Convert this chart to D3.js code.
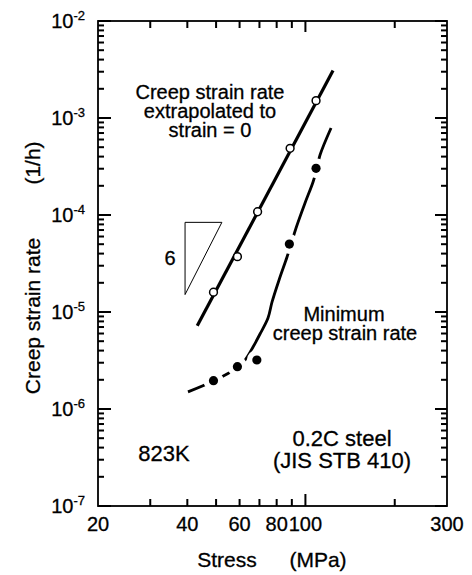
<!DOCTYPE html>
<html>
<head>
<meta charset="utf-8">
<script src="https://cdn.jsdelivr.net/npm/d3@7"></script>
<style>
  body { margin: 0; background: #fff; }
  text { font-family: "Liberation Sans", Arial, Helvetica, sans-serif; fill: #000; stroke: #000; stroke-width: 0.3px; }
</style>
</head>
<body>
<svg id="chart" width="472" height="575"></svg>
<script>
// ---- data (stress in MPa, strain rate in 1/h) ----
const extrapStress = [49, 59, 69, 88.8, 108.6];
const extrapRate   = [1.6e-5, 3.72e-5, 1.08e-4, 4.87e-4, 1.51e-3];
const extrapLineStress = [43.2, 123.9];
const extrapLineRate   = [7.22e-6, 3.08e-3];

const minStress = [49, 59, 68.6, 88.3, 108.6];
const minRate   = [1.96e-6, 2.73e-6, 3.2e-6, 5.02e-5, 3.03e-4];
const minCurveStress = [40.2, 49, 58.8, 62.6, 66.6, 70.3, 74.8, 77.2, 81.5, 86.7, 89.5, 93.0, 99.7, 106.1, 109.4, 112, 122];
const minCurveRate   = [1.5e-6, 1.94e-6, 2.65e-6, 3.2e-6, 4.36e-6, 5.93e-6, 8.67e-6, 1.27e-5, 2.14e-5, 3.69e-5, 5.02e-5, 7.35e-5, 1.33e-4, 2.19e-4, 3.05e-4, 4.15e-4, 7.88e-4];

const slopeStress = [39.3, 52.3];
const slopeTopRate = 8.4e-5;
const slopeValue = 6;

const xTickLabels = [20, 40, 60, 80, 100, 300];
const xMinorTicks = [30, 40, 50, 60, 70, 80, 90, 200];
const xMajorTicks = [100];
const yExponents = [-2, -3, -4, -5, -6, -7];

// ---- layout ----
const svg = d3.select("#chart");
const L = 98, R = 447, T = 21, B = 506;
const x = d3.scaleLog().domain([20, 300]).range([L, R]);
const y = d3.scaleLog().domain([1e-7, 1e-2]).range([B, T]);

const yMinor = [];
for (let e = -7; e < -2; e++) for (let m = 2; m <= 9; m++) yMinor.push(m * Math.pow(10, e));
const yMajor = yExponents.map(e => Math.pow(10, e));

// frame
svg.append("rect").attr("x", L).attr("y", T).attr("width", R - L).attr("height", B - T)
  .attr("fill", "none").attr("stroke", "#000").attr("stroke-width", 1.8);

// ticks (inward) drawn from the scales as thin rects
function xTicks(vals, yEdge, len) {
  svg.append("g").selectAll("rect").data(vals).join("rect")
    .attr("x", d => x(d) - 1).attr("width", 2)
    .attr("y", len < 0 ? yEdge + len : yEdge).attr("height", Math.abs(len))
    .attr("fill", "#000");
}
function yTicks(vals, xEdge, len) {
  svg.append("g").selectAll("rect").data(vals).join("rect")
    .attr("y", d => y(d) - 1).attr("height", 2)
    .attr("x", len < 0 ? xEdge + len : xEdge).attr("width", Math.abs(len))
    .attr("fill", "#000");
}
xTicks(xMinorTicks, B, -7);
xTicks(xMajorTicks, B, -12);
xTicks(xMinorTicks, T, 7);
xTicks(xMajorTicks, T, 11);
yTicks(yMinor, L, 6);
yTicks(yMajor, L, 13);
yTicks(yMinor, R, -6);
yTicks(yMajor, R, -12);

// x tick labels
svg.append("g").selectAll("text").data(xTickLabels).join("text")
  .attr("x", d => x(d)).attr("y", B + 25)
  .attr("text-anchor", "middle").attr("font-size", 20)
  .text(d => d);

// y tick labels with superscript
const yl = svg.append("g").selectAll("text").data(yExponents).join("text")
  .attr("x", L - 13).attr("y", d => y(Math.pow(10, d)) + 7)
  .attr("text-anchor", "end").attr("font-size", 20);
yl.append("tspan").text("10");
yl.append("tspan").attr("font-size", 13).attr("dy", -8).text(d => String(d));

// axis titles
svg.append("text").attr("x", 227).attr("y", 567).attr("text-anchor", "middle").attr("font-size", 21).text("Stress");
svg.append("text").attr("x", 318).attr("y", 567).attr("text-anchor", "middle").attr("font-size", 21).text("(MPa)");
svg.append("text").attr("transform", "translate(40,316) rotate(-90)").attr("text-anchor", "middle").attr("font-size", 21).text("Creep strain rate");
svg.append("text").attr("transform", "translate(40,163) rotate(-90)").attr("text-anchor", "middle").attr("font-size", 21).text("(1/h)");

// slope triangle
const sx0 = x(slopeStress[0]), sx1 = x(slopeStress[1]);
const syTop = y(slopeTopRate);
const bottomRate = slopeTopRate / Math.pow(slopeStress[1] / slopeStress[0], slopeValue);
svg.append("path")
  .attr("d", `M${sx0},${syTop}L${sx1},${syTop}L${sx0},${y(bottomRate)}Z`)
  .attr("fill", "none").attr("stroke", "#000").attr("stroke-width", 1);
svg.append("text").attr("x", sx0 - 15).attr("y", (syTop + y(bottomRate)) / 2 + 7)
  .attr("text-anchor", "middle").attr("font-size", 20).text(slopeValue);

// minimum creep strain rate curve
const minLine = d3.line().x(d => x(d[0])).y(d => y(d[1])).curve(d3.curveCatmullRom.alpha(0.5));
svg.append("path").datum(minCurveStress.map((s, i) => [s, minCurveRate[i]]))
  .attr("d", minLine).attr("fill", "none").attr("stroke", "#000").attr("stroke-width", 2.8);
// gaps around filled points
svg.append("g").selectAll("circle").data(minStress).join("circle")
  .attr("cx", d => x(d)).attr("cy", (d, i) => y(minRate[i])).attr("r", 10).attr("fill", "#fff");
svg.append("g").selectAll("circle").data(minStress).join("circle")
  .attr("cx", d => x(d)).attr("cy", (d, i) => y(minRate[i])).attr("r", 4.6).attr("fill", "#000");

// extrapolated line
svg.append("line")
  .attr("x1", x(extrapLineStress[0])).attr("y1", y(extrapLineRate[0]))
  .attr("x2", x(extrapLineStress[1])).attr("y2", y(extrapLineRate[1]))
  .attr("stroke", "#000").attr("stroke-width", 3.2);
svg.append("g").selectAll("circle").data(extrapStress).join("circle")
  .attr("cx", d => x(d)).attr("cy", (d, i) => y(extrapRate[i])).attr("r", 3.9)
  .attr("fill", "#fff").attr("stroke", "#000").attr("stroke-width", 1.5);

// annotations
const annText = ["Creep strain rate", "extrapolated to", "strain = 0", "Minimum", "creep strain rate", "823K", "0.2C  steel", "(JIS STB 410)"];
const annX = [210, 210, 210, 344, 345, 164, 342, 342];
const annY = [99, 118, 137, 321, 340, 461, 446, 468];
const annSize = [20, 20, 20, 20, 20, 22, 22, 22];
svg.append("g").selectAll("text").data(annText).join("text")
  .attr("x", (d, i) => annX[i]).attr("y", (d, i) => annY[i])
  .attr("text-anchor", "middle").attr("font-size", (d, i) => annSize[i])
  .text(d => d);
</script>
</body>
</html>
